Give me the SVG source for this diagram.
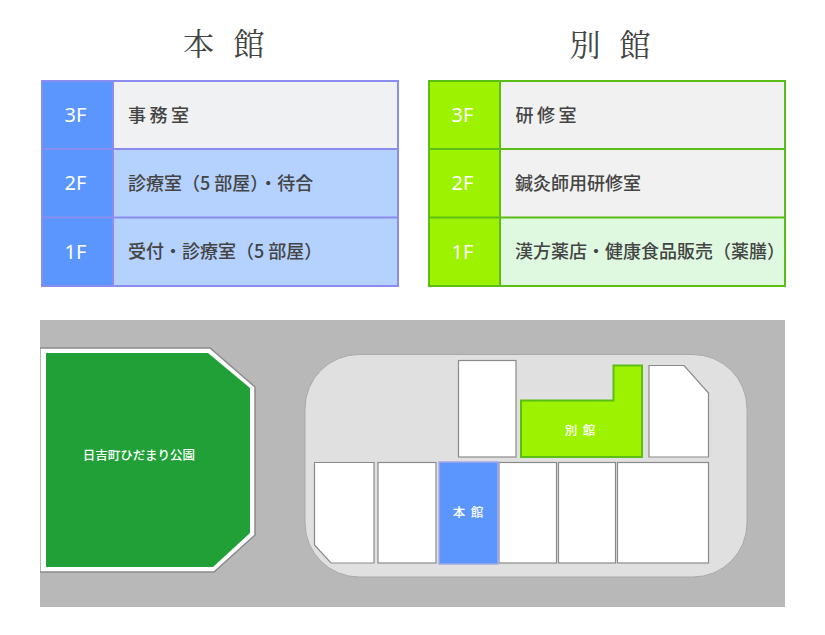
<svg xmlns="http://www.w3.org/2000/svg" width="825" height="635" viewBox="0 0 825 635">
<style>
.h{font-family:"Noto Serif CJK JP","Noto Sans CJK JP",serif;font-size:31px;fill:#444}
.f{font-family:"Noto Sans","Liberation Sans",sans-serif;font-size:20px;fill:#fff;text-anchor:middle}
.t{font-family:"Noto Sans CJK JP",sans-serif;font-size:18px;fill:#444;font-weight:500}
.l{font-family:"Noto Sans CJK JP",sans-serif;font-size:12.500px;fill:#fff;text-anchor:middle;font-weight:500}
.b{fill:#fff;stroke:#8a8a8a;stroke-width:1.2}
</style>
<rect width="825" height="635" fill="#fff"/>
<g id="honkan-table">
<text class="h" y="55"><tspan x="183">本</tspan><tspan x="233.500">館</tspan></text>
<rect x="42" y="81" width="71" height="205" fill="#5b96ff"/>
<rect x="113" y="81" width="285" height="68" fill="#f0f1f2"/>
<rect x="113" y="149" width="285" height="137" fill="#b5d2fe"/>
<g fill="none" stroke="#8b8cf0" stroke-width="2">
<rect x="42" y="81" width="356" height="205"/>
<path d="M113 81V286M42 149H398M42 217.500H398"/>
</g>
<text class="f" x="75.500" y="122">3F</text>
<text class="f" x="75.500" y="190">2F</text>
<text class="f" x="75.500" y="259">1F</text>
<text class="t" x="128" y="122" letter-spacing="3.500">事務室</text>
<text class="t" x="128" y="190">診療室（5 部屋）・待合</text>
<text class="t" x="128" y="258">受付・診療室（5 部屋）</text>
</g>
<g id="bekkan-table">
<text class="h" y="56"><tspan x="569.500">別</tspan><tspan x="619.500">館</tspan></text>
<rect x="429" y="81" width="71" height="205" fill="#9cf200"/>
<rect x="500" y="81" width="285" height="136" fill="#f1f1f1"/>
<rect x="500" y="217" width="285" height="69" fill="#def9e0"/>
<g fill="none" stroke="#5abe14" stroke-width="2">
<rect x="429" y="81" width="356" height="205"/>
<path d="M500 81V286M429 149H785M429 217.500H785"/>
</g>
<text class="f" x="462.500" y="122">3F</text>
<text class="f" x="462.500" y="190">2F</text>
<text class="f" x="462.500" y="259">1F</text>
<text class="t" x="515.500" y="122" letter-spacing="3.500">研修室</text>
<text class="t" x="515" y="190">鍼灸師用研修室</text>
<text class="t" x="515" y="258">漢方薬店・健康食品販売（薬膳）</text>
</g>
<g id="map-ground"><rect x="40" y="320" width="745" height="287" fill="#b8b8b8"/></g>
<g id="park">
<path d="M41 348H210L255 387V535L214 572H41Z" fill="#fff"/>
<path d="M40 348H210L255 387V535L214 572H40" fill="none" stroke="#8a8a8a" stroke-width="1.500"/>
<path d="M46 353H208L250 388V533L213 567H46Z" fill="#20a037"/>
<text class="l" x="139" y="460">日吉町ひだまり公園</text>
</g>
<g id="block"><rect x="305" y="354.500" width="442" height="222.500" rx="54" fill="#e0e0e0" stroke="#a8a8a8"/></g>
<g id="building-a"><rect class="b" x="458.500" y="360.500" width="57.500" height="96.500"/></g>
<g id="building-b"><path class="b" d="M649 365.500H684L708.500 393V457H649Z"/></g>
<g id="building-c"><path class="b" d="M314.500 462.500H374V563H331L314.500 545Z"/></g>
<g id="building-d"><rect class="b" x="378" y="462.500" width="58" height="100.500"/></g>
<g id="building-e"><rect class="b" x="499" y="462.500" width="57.500" height="100.500"/></g>
<g id="building-f"><rect class="b" x="558.500" y="462.500" width="57" height="100.500"/></g>
<g id="building-g"><rect class="b" x="617.500" y="462.500" width="91" height="100.500"/></g>
<g id="bekkan">
<path d="M521 400.500H613.500V365.500H642V457H521Z" fill="#9cf200" stroke="#5abe14" stroke-width="2"/>
<text class="l" x="580" y="435" xml:space="preserve">別  館</text>
</g>
<g id="honkan">
<rect x="439" y="462" width="59" height="102" fill="#5b96ff" stroke="#a5a8e8" stroke-width="1.500"/>
<text class="l" x="468" y="517" xml:space="preserve">本  館</text>
</g>
</svg>
